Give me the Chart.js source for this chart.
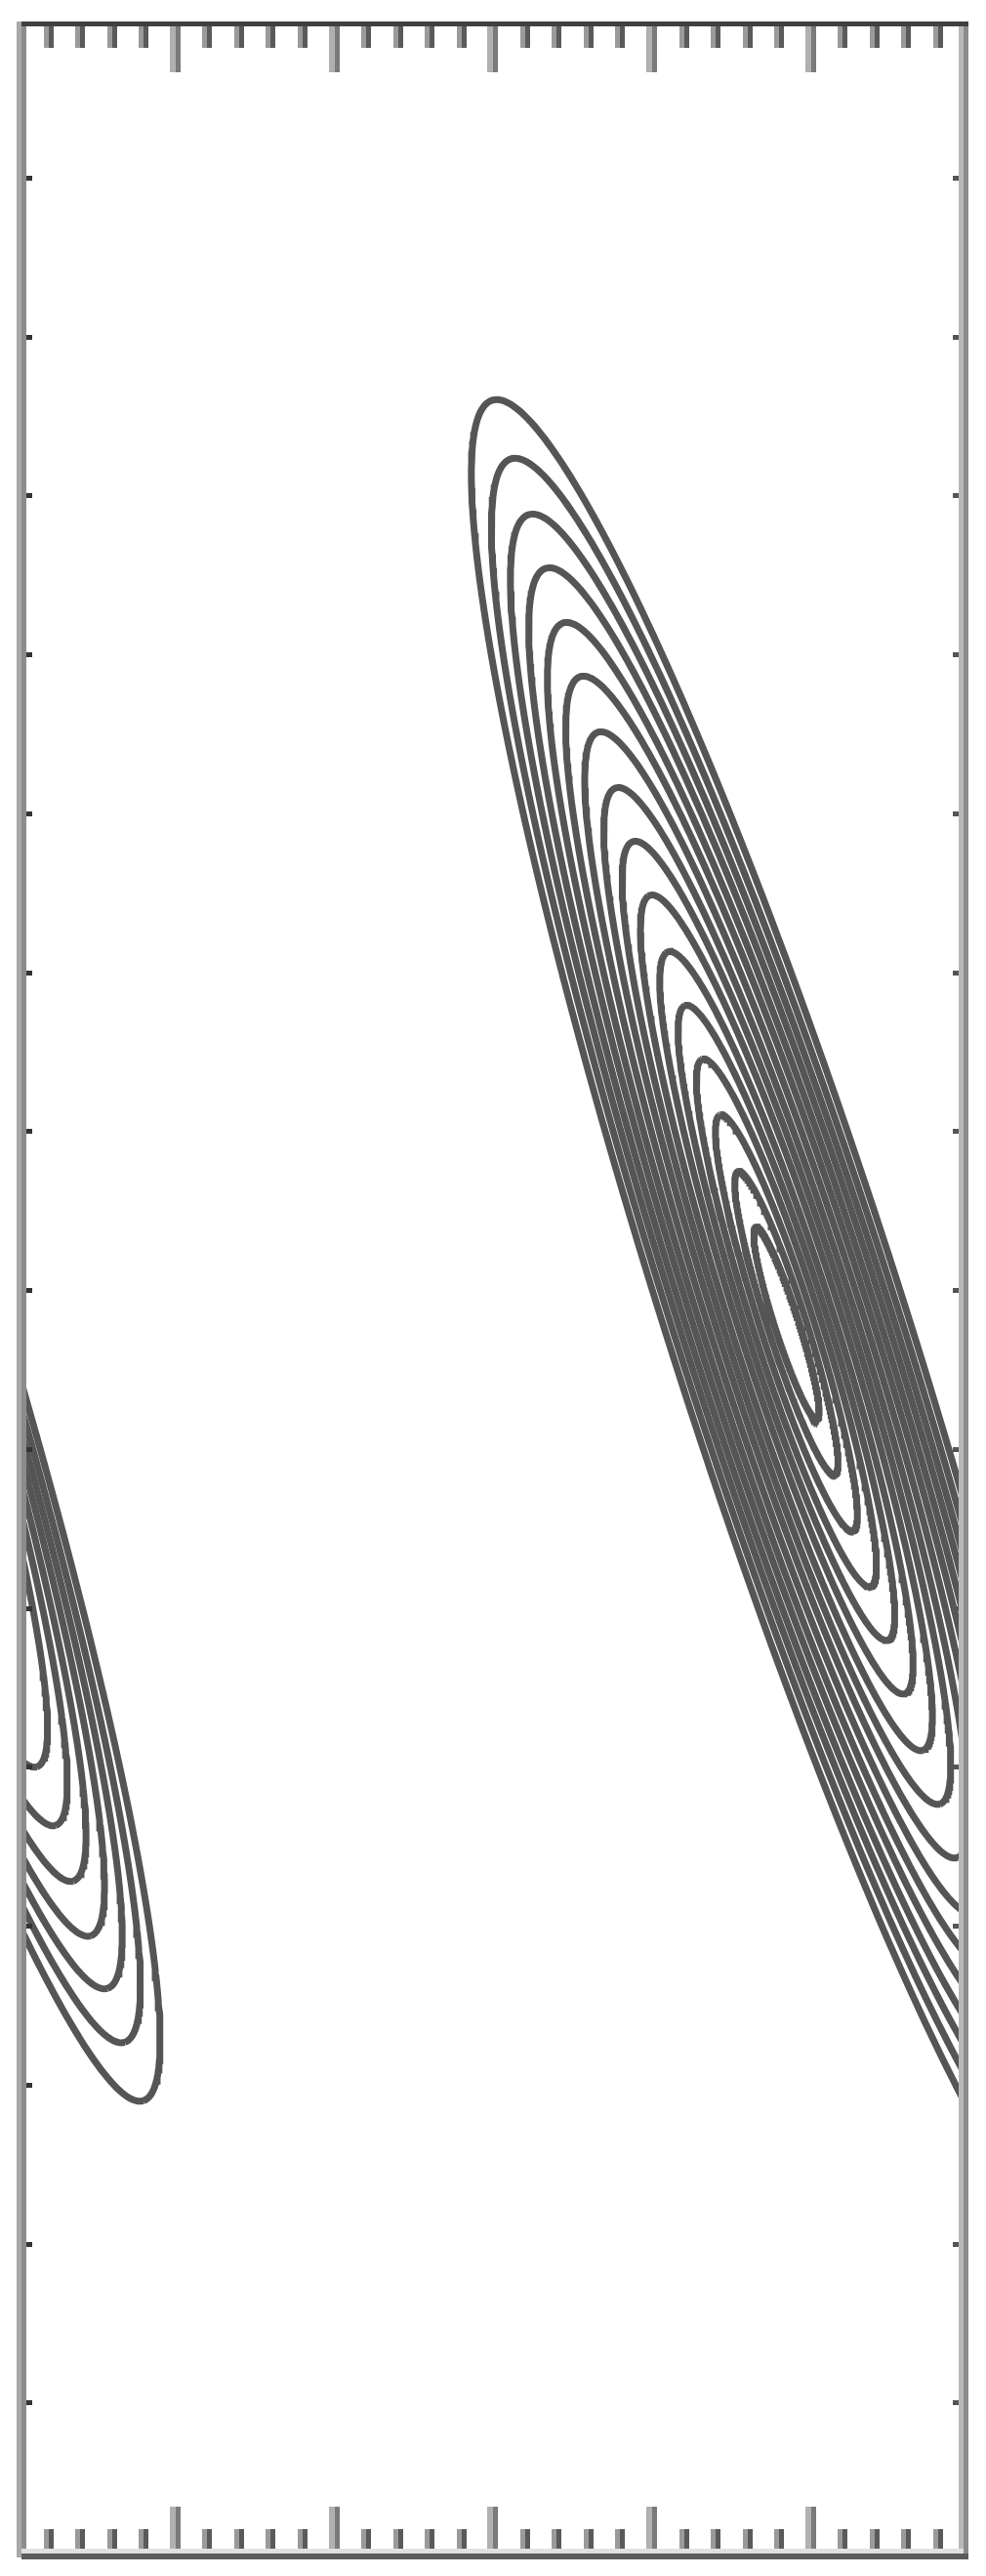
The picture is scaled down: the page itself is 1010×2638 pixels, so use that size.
<!DOCTYPE html>
<html><head><meta charset="utf-8">
<script src="https://cdn.jsdelivr.net/npm/chart.js@4.4.1/dist/chart.umd.min.js"></script>
<style>html,body{margin:0;padding:0;background:#fff;}canvas{display:block;}</style>
</head><body>
<canvas id="c" width="1010" height="2638"></canvas>
<script>
// ---- axis ranges and ticks ----
const xRange = [0.03, 5.96];
const yRange = [0.05, 15.97];
const xMajorTicks = [1, 2, 3, 4, 5];
const xMinorTicks = [0.2, 0.4, 0.6, 0.8, 1.2, 1.4, 1.6, 1.8, 2.2, 2.4, 2.6, 2.8,
                     3.2, 3.4, 3.6, 3.8, 4.2, 4.4, 4.6, 4.8, 5.2, 5.4, 5.6, 5.8];
const yMajorTicks = [1, 2, 3, 4, 5, 6, 7, 8, 9, 10, 11, 12, 13, 14, 15];

// ---- contour families (elongated tilted rings) ----
const ringTiltDeg = -72.3;      // direction of the long axis
// right family: centre, short/long axis ratio, top apex height of each ring (outer -> inner)
const rightCenter = [4.845, 7.794];
const rightAxisRatio = 0.122;
const rightRingTopY = [13.603, 13.234, 12.883, 12.545, 12.201, 11.863, 11.513, 11.162,
                       10.824, 10.486, 10.130, 9.792, 9.454, 9.103, 8.747, 8.397];
// left family (mostly beyond the left edge): centre, ratio, bottom apex height of each ring
const leftCenter = [-1.055, 8.704];
const leftAxisRatio = 0.109;
const leftRingBottomY = [2.896, 3.264, 3.603, 3.934, 4.279, 4.629, 4.998];

const th = ringTiltDeg * Math.PI / 180;
const ux = Math.cos(th), uy = Math.sin(th);
const vx = -Math.sin(th), vy = Math.cos(th);

function ring(c, ratio, apexDist) {
  const apexFactor = Math.sqrt(uy * uy + ratio * ratio * ux * ux);
  const a = apexDist / apexFactor, b = a * ratio;
  const pts = [];
  const n = 360;
  for (let i = 0; i <= n; i++) {
    const t = 2 * Math.PI * i / n;
    const ca = Math.cos(t) * a, sb = Math.sin(t) * b;
    pts.push({x: c[0] + ca * ux + sb * vx, y: c[1] + ca * uy + sb * vy});
  }
  return pts;
}

const datasets = [];
function addRing(pts) {
  datasets.push({data: pts, showLine: true, pointRadius: 0, borderColor: '#555555',
                 borderWidth: 7, fill: false, tension: 0, clip: 0});
}
rightRingTopY.forEach(v => addRing(ring(rightCenter, rightAxisRatio, v - rightCenter[1])));
leftRingBottomY.forEach(v => addRing(ring(leftCenter, leftAxisRatio, leftCenter[1] - v)));

const framePlugin = {
  id: 'frame',
  afterDraw(chart) {
    const ctx = chart.ctx, ca = chart.chartArea;
    const sx = chart.scales.x, sy = chart.scales.y;
    const L = ca.left, R = ca.right, T = ca.top, B = ca.bottom;
    ctx.save();
    // x ticks (top and bottom, inward)
    xMinorTicks.forEach(v => {
      const p = Math.round(sx.getPixelForValue(v));
      ctx.fillStyle = '#9a9a9a'; ctx.fillRect(p - 5, T, 5, 25); ctx.fillRect(p - 5, B - 25, 5, 25);
      ctx.fillStyle = '#5a5a5a'; ctx.fillRect(p, T, 5, 25); ctx.fillRect(p, B - 25, 5, 25);
    });
    xMajorTicks.forEach(v => {
      const p = Math.round(sx.getPixelForValue(v));
      ctx.fillStyle = '#b0b0b0'; ctx.fillRect(p - 6, T, 6, 50); ctx.fillRect(p - 6, B - 48, 6, 48);
      ctx.fillStyle = '#7a7a7a'; ctx.fillRect(p, T, 5, 50); ctx.fillRect(p, B - 48, 5, 48);
    });
    // y ticks (left and right, inward, short)
    yMajorTicks.forEach(v => {
      const p = Math.round(sy.getPixelForValue(v));
      ctx.fillStyle = '#333'; ctx.fillRect(L, p - 2, 11, 5);
      ctx.fillStyle = '#555'; ctx.fillRect(R - 11, p - 2, 11, 5);
    });
    // frame
    ctx.fillStyle = '#a8a8a8'; ctx.fillRect(L - 5, T - 2, 5, B - T + 6);
    ctx.fillStyle = '#8c8c8c'; ctx.fillRect(L, T - 2, 5, B - T + 6);
    ctx.fillStyle = '#b8b8b8'; ctx.fillRect(R - 5, T - 2, 5, B - T + 6);
    ctx.fillStyle = '#8a8a8a'; ctx.fillRect(R, T - 2, 5, B - T + 6);
    ctx.fillStyle = '#404040'; ctx.fillRect(L, T - 2, R - L + 5, 5);
    ctx.fillStyle = '#e0e0e0'; ctx.fillRect(L, B - 5, R - L, 5);
    ctx.fillStyle = '#5c5c5c'; ctx.fillRect(L, B, R - L + 5, 6);
    ctx.restore();
  }
};

new Chart(document.getElementById('c'), {
  type: 'scatter',
  data: {datasets},
  options: {
    responsive: false, animation: false, devicePixelRatio: 1,
    layout: {padding: {left: 22, right: 23, top: 24, bottom: 23}},
    plugins: {legend: {display: false}, tooltip: {enabled: false}},
    scales: {
      x: {type: 'linear', min: xRange[0], max: xRange[1], display: false},
      y: {type: 'linear', min: yRange[0], max: yRange[1], display: false}
    }
  },
  plugins: [framePlugin]
});
</script>
</body></html>
